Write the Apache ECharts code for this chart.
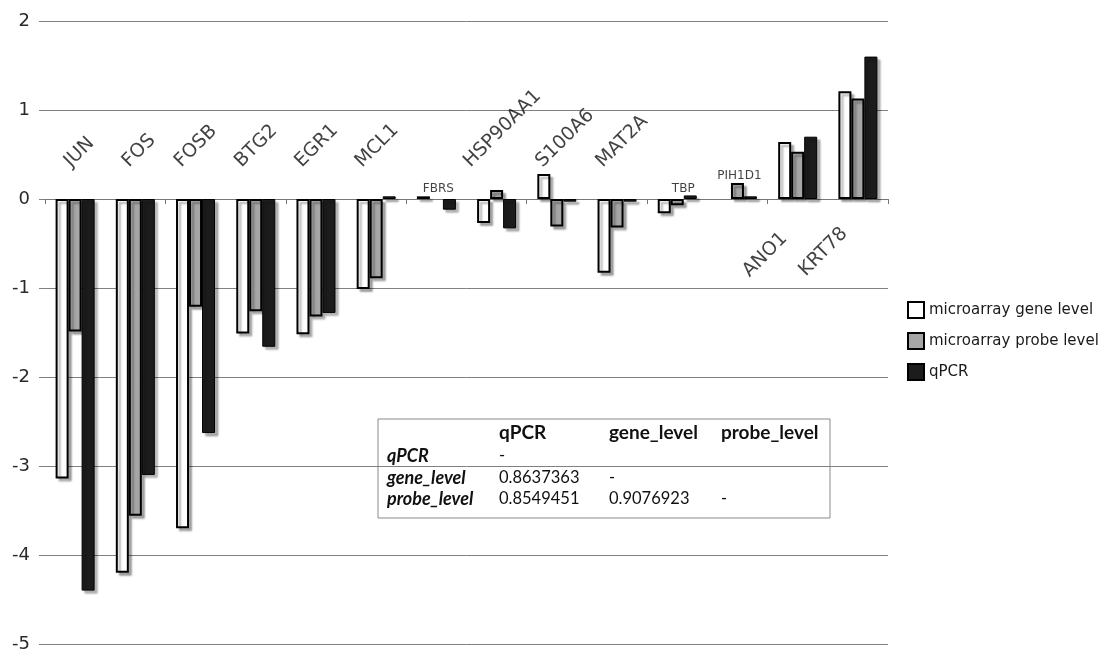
<!DOCTYPE html>
<html><head><meta charset="utf-8">
<script src="https://cdn.jsdelivr.net/npm/echarts@6/dist/echarts.min.js"></script>
<style>html,body{margin:0;padding:0;background:#fff}#chart{width:1109px;height:652px}</style>
</head><body><div id="chart"></div>
<script>
// ---------- data ----------
const categories = ['JUN','FOS','FOSB','BTG2','EGR1','MCL1','FBRS','HSP90AA1','S100A6','MAT2A','TBP','PIH1D1','ANO1','KRT78'];
const geneLevel  = [-3.14,-4.20,-3.70,-1.51,-1.52,-1.01, 0.03,-0.27, 0.28,-0.83,-0.16, 0.00, 0.64, 1.21];
const probeLevel = [-1.49,-3.56,-1.21,-1.26,-1.32,-0.89, 0.00, 0.10,-0.31,-0.32,-0.07, 0.18, 0.53, 1.13];
const qpcr       = [-4.40,-3.10,-2.63,-1.66,-1.28, 0.03,-0.12,-0.33,-0.03,-0.03, 0.04, 0.03, 0.70, 1.60];
const seriesNames = ['microarray gene level','microarray probe level','qPCR'];
const yTicks = [-5,-4,-3,-2,-1,0,1,2];
const flatLabelGenes = ['FBRS','TBP','PIH1D1'];
const belowLabelGenes = ['ANO1','KRT78'];
const corrHeader = ['qPCR','gene_level','probe_level'];
const corrRowNames = ['qPCR','gene_level','probe_level'];
const corrValues = [
  ['-','',''],
  ['0.8637363','-',''],
  ['0.8549451','0.9076923','-']
];

// ---------- label styling (screen nudges, px) ----------
const upNudgeX = {JUN:-1, FOS:-3, HSP90AA1:-23};
const upNudgeDefault = -11;
const flatNudgeX = {TBP:4};
const belowNudgeY = {ANO1:30, KRT78:25};

const FONT = 'DejaVu Sans';
const labelData = categories.map((c, i) => {
  const isFlat = flatLabelGenes.includes(c);
  const isBelow = belowLabelGenes.includes(c);
  const y = isFlat ? Math.max(0, geneLevel[i], probeLevel[i], qpcr[i]) : 0;
  let label;
  if (isFlat) {
    label = {show:true, formatter:c, rotate:0, align:'center', verticalAlign:'bottom',
      fontSize:12, position:[1 + 2 + (flatNudgeX[c]||0), 1 - 1]};
  } else if (isBelow) {
    label = {show:true, formatter:c, rotate:45, align:'right', verticalAlign:'top',
      fontSize:19, position:[1 - 20, 1 + (belowNudgeY[c]||27)]};
  } else {
    const dx = (c in upNudgeX) ? upNudgeX[c] : upNudgeDefault;
    label = {show:true, formatter:c, rotate:45, align:'left', verticalAlign:'bottom',
      fontSize:19, position:[1 + dx, 1 - 28]};
  }
  return {value:[i, y], label};
});

const shadow = {shadowColor:'rgba(0,0,0,0.3)', shadowBlur:2, shadowOffsetX:3, shadowOffsetY:3};
const barStyles = [
  Object.assign({color:'#ffffff', borderColor:'#000', borderWidth:2}, shadow),
  Object.assign({color:'#a6a6a6', borderColor:'#000', borderWidth:2}, shadow),
  Object.assign({color:'#1c1c1c', borderColor:'#000', borderWidth:1}, shadow)
];
const seriesData = [geneLevel, probeLevel, qpcr];
// zero-height bars are not outlined in the reference
const toItems = arr => arr.map(v => v === 0 ? {value:v, itemStyle:{borderWidth:0, shadowColor:'rgba(0,0,0,0)'}} : v);

// ---------- correlation table (graphic text) ----------
const tbl = {left:378, top:419, width:452, height:99};
const colX = [387, 499, 609, 721];
const rowY = [433, 456, 478, 499];
const tableFont = 'Lato';
const tableChildren = [{
  type:'rect', shape:{x:tbl.left, y:tbl.top, width:tbl.width, height:tbl.height},
  style:{fill:'#fff', stroke:'#8a8a8a', lineWidth:1}
}];
corrHeader.forEach((h, j) => tableChildren.push({
  type:'text', style:{text:h, x:colX[j+1], y:rowY[0], font:'bold 19px ' + tableFont, fill:'#111', verticalAlign:'middle'}
}));
corrRowNames.forEach((r, i) => {
  tableChildren.push({type:'text', style:{text:r, x:colX[0], y:rowY[i+1], font:'italic bold 18px ' + tableFont, fill:'#111', verticalAlign:'middle'}});
  corrValues[i].forEach((v, j) => {
    if (v) tableChildren.push({type:'text', style:{text:v, x:colX[j+1], y:rowY[i+1], font:'16.5px ' + tableFont, fill:'#111', verticalAlign:'middle'}});
  });
});

const chart = echarts.init(document.getElementById('chart'), null, {renderer:'canvas'});
chart.setOption({
  animation:false,
  backgroundColor:'#fff',
  textStyle:{fontFamily:FONT},
  grid:{left:45, right:221, top:21, bottom:8, outerBoundsMode:'none', containLabel:false},
  legend:{
    data:seriesNames, orient:'vertical', left:902, top:296, icon:'rect',
    itemWidth:16, itemHeight:16, itemGap:13,
    textStyle:{fontFamily:FONT, fontSize:15, color:'#1a1a1a'}
  },
  xAxis:{
    type:'category', data:categories,
    axisLine:{show:true, onZero:true, lineStyle:{color:'#777', width:1}},
    axisTick:{show:true, length:5, lineStyle:{color:'#777'}},
    axisLabel:{show:false},
    splitLine:{show:false}
  },
  yAxis:{
    type:'value', min:yTicks[0], max:yTicks[yTicks.length-1], interval:1,
    axisLine:{show:false},
    axisTick:{show:true, length:6, lineStyle:{color:'#808080'}},
    axisLabel:{fontFamily:FONT, fontSize:18, color:'#2a2a2a', margin:15},
    splitLine:{show:true, lineStyle:{color:'#808080', width:1}}
  },
  series: seriesNames.map((n, k) => ({
    name:n, type:'bar', data:toItems(seriesData[k]), barWidth:13, barGap:'0%',
    itemStyle:barStyles[k], z:3
  })).concat([{
    name:'geneLabels', type:'scatter', data:labelData, symbolSize:2,
    itemStyle:{color:'rgba(0,0,0,0)'}, silent:true, z:5,
    label:{show:true, color:'#111', fontFamily:FONT}
  }]),
  graphic:[{type:'group', z:100, children:tableChildren}]
});
</script></body></html>
